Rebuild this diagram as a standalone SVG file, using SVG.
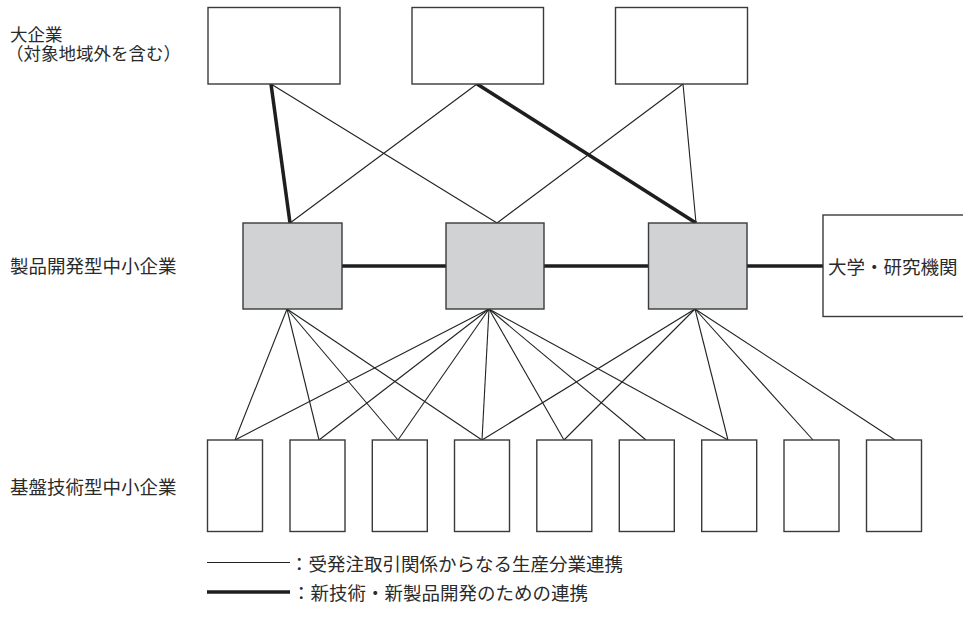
<svg xmlns="http://www.w3.org/2000/svg" width="963" height="622" viewBox="0 0 963 622">
<style>
  .box{fill:#ffffff;stroke:#3a3a3a;stroke-width:1.4}
  .mid{fill:#d1d2d4;stroke:#3a3a3a;stroke-width:1.4}
  .thin{stroke:#222;stroke-width:1.1;fill:none}
  .thick{stroke:#1e1e1e;stroke-width:3.5;fill:none}
  text{font-family:"Liberation Serif","Noto Sans CJK JP",serif;font-size:18.5px;fill:#2a2a2a}
  .small{font-size:17.5px}
</style>
<rect width="963" height="622" fill="#ffffff"/>

<g id="labels">
  <text class="small" x="10" y="40.5">大企業</text>
  <text class="small" x="6" y="60">（対象地域外を含む）</text>
  <text x="10" y="272.5">製品開発型中小企業</text>
  <text x="10" y="493.5">基盤技術型中小企業</text>
</g>

<g id="connectors">
  <line class="thick" x1="271" y1="84" x2="290" y2="223"/>
  <line class="thin" x1="271" y1="84" x2="497" y2="223"/>
  <line class="thin" x1="477" y1="84" x2="290" y2="223"/>
  <line class="thick" x1="477" y1="84" x2="696" y2="223"/>
  <line class="thin" x1="683" y1="84" x2="497" y2="223"/>
  <line class="thin" x1="683" y1="84" x2="696" y2="223"/>
  <line class="thick" x1="342" y1="266" x2="446" y2="266"/>
  <line class="thick" x1="544" y1="266" x2="648" y2="266"/>
  <line class="thick" x1="747" y1="266" x2="823" y2="266"/>
  <line class="thin" x1="287" y1="309" x2="235" y2="440"/>
  <line class="thin" x1="287" y1="309" x2="319" y2="440"/>
  <line class="thin" x1="287" y1="309" x2="398" y2="440"/>
  <line class="thin" x1="287" y1="309" x2="482" y2="440"/>
  <line class="thin" x1="489" y1="309" x2="235" y2="440"/>
  <line class="thin" x1="489" y1="309" x2="319" y2="440"/>
  <line class="thin" x1="489" y1="309" x2="398" y2="440"/>
  <line class="thin" x1="489" y1="309" x2="482" y2="440"/>
  <line class="thin" x1="489" y1="309" x2="564" y2="440"/>
  <line class="thin" x1="489" y1="309" x2="646" y2="440"/>
  <line class="thin" x1="489" y1="309" x2="728" y2="440"/>
  <line class="thin" x1="695" y1="309" x2="482" y2="440"/>
  <line class="thin" x1="695" y1="309" x2="564" y2="440"/>
  <line class="thin" x1="695" y1="309" x2="728" y2="440"/>
  <line class="thin" x1="695" y1="309" x2="813" y2="440"/>
  <line class="thin" x1="695" y1="309" x2="895" y2="440"/>
</g>

<g id="large1"><rect class="box" x="208" y="7.5" width="132" height="76.5"/></g>
<g id="large2"><rect class="box" x="412" y="7.5" width="131.5" height="76.5"/></g>
<g id="large3"><rect class="box" x="615.5" y="7.5" width="132" height="76.5"/></g>

<g id="prod1"><rect class="mid" x="243" y="223" width="99" height="86"/></g>
<g id="prod2"><rect class="mid" x="446" y="223" width="98" height="86"/></g>
<g id="prod3"><rect class="mid" x="648.5" y="223" width="98.5" height="86"/></g>

<g id="univ">
  <rect class="box" x="823" y="215" width="150" height="101.5"/>
  <text x="828" y="274">大学・研究機関</text>
</g>

<g id="base1"><rect class="box" x="207.5" y="440" width="55" height="91.5"/></g>
<g id="base2"><rect class="box" x="290" y="440" width="55" height="91.5"/></g>
<g id="base3"><rect class="box" x="372.3" y="440" width="55" height="91.5"/></g>
<g id="base4"><rect class="box" x="454.5" y="440" width="55" height="91.5"/></g>
<g id="base5"><rect class="box" x="536.8" y="440" width="55" height="91.5"/></g>
<g id="base6"><rect class="box" x="619.3" y="440" width="55" height="91.5"/></g>
<g id="base7"><rect class="box" x="701.7" y="440" width="55" height="91.5"/></g>
<g id="base8"><rect class="box" x="784" y="440" width="55" height="91.5"/></g>
<g id="base9"><rect class="box" x="866.5" y="440" width="55" height="91.5"/></g>

<g id="legend">
  <line class="thin" x1="207" y1="562.5" x2="290" y2="562.5"/>
  <text x="290" y="570.5">：受発注取引関係からなる生産分業連携</text>
  <line class="thick" x1="207" y1="592" x2="290" y2="592"/>
  <text x="292" y="600">：新技術・新製品開発のための連携</text>
</g>
</svg>
